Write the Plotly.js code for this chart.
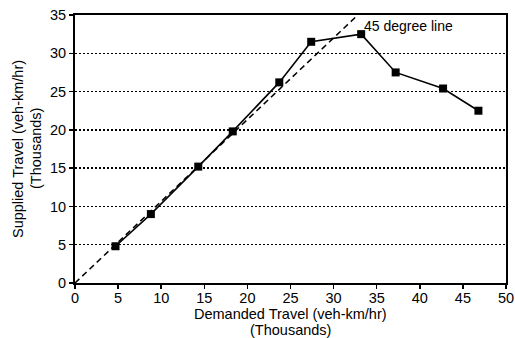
<!DOCTYPE html>
<html><head><meta charset="utf-8">
<script src="https://cdn.plot.ly/plotly-3.0.1.min.js"></script>
<style>html,body{margin:0;padding:0;background:#fff;}</style>
</head><body>
<div id="chart" style="width:515px;height:338px;"></div>
<script>
const demanded = [4.7, 8.8, 14.3, 18.3, 23.7, 27.4, 33.2, 37.2, 42.7, 46.8];
const supplied = [4.8, 9.0, 15.2, 19.8, 26.2, 31.5, 32.5, 27.5, 25.4, 22.5];
const refX = [0, 32.8];
const refY = [0, 35];
const refLabel = '45 degree line';
const xTitle = ['Demanded Travel (veh-km/hr)', '(Thousands)'];
const yTitle = ['Supplied Travel (veh-km/hr)', '(Thousands)'];
const xTicks = [0, 5, 10, 15, 20, 25, 30, 35, 40, 45, 50];
const yTicks = [0, 5, 10, 15, 20, 25, 30, 35];

const font = {family: 'Liberation Sans, Arial, sans-serif', color: '#000', size: 14};

Plotly.newPlot('chart', [
  {x: refX, y: refY, mode: 'lines', line: {color: '#000', width: 1.5, dash: '6px,4px'}, hoverinfo: 'skip'},
  {x: demanded, y: supplied, mode: 'lines+markers', line: {color: '#000', width: 1.6},
   marker: {symbol: 'square', size: 8, color: '#000'}}
], {
  width: 515, height: 338,
  margin: {l: 75, r: 9, t: 15, b: 55},
  showlegend: false,
  paper_bgcolor: '#fff', plot_bgcolor: '#fff',
  font: font,
  xaxis: {range: [0, 50], tickvals: xTicks, ticks: 'outside', ticklen: 4, tickwidth: 1.5, tickcolor: '#000',
    ticklabelstandoff: -3,
    showgrid: false, zeroline: false, showline: true, linecolor: '#000', linewidth: 2, mirror: true,
    tickfont: {size: 14.5}},
  yaxis: {range: [0, 35], tickvals: yTicks, ticks: 'outside', ticklen: 4, tickwidth: 1.5, tickcolor: '#000',
    showgrid: true, gridcolor: '#000', griddash: '2px,2px', gridwidth: 1.5, zeroline: false,
    showline: true, linecolor: '#000', linewidth: 2, mirror: true,
    tickfont: {size: 14.5}},
  annotations: [
    {x: 33.3, y: 33.6, xref: 'x', yref: 'y', text: refLabel, showarrow: false, xanchor: 'left', yanchor: 'middle', font: {size: 14}},
    {x: 0.5, y: 0, xref: 'paper', yref: 'paper', text: xTitle[0], showarrow: false, xanchor: 'center', yanchor: 'top', yshift: -21, font: {size: 14.5}},
    {x: 0.5, y: 0, xref: 'paper', yref: 'paper', text: xTitle[1], showarrow: false, xanchor: 'center', yanchor: 'top', yshift: -37, font: {size: 14.5}},
    {x: 0, y: 0.5, xref: 'paper', yref: 'paper', text: yTitle[0], showarrow: false, textangle: -90, xanchor: 'center', yanchor: 'middle', xshift: -57, font: {size: 14.5}},
    {x: 0, y: 0.5, xref: 'paper', yref: 'paper', text: yTitle[1], showarrow: false, textangle: -90, xanchor: 'center', yanchor: 'middle', xshift: -39, font: {size: 14.5}}
  ]
}, {displayModeBar: false, staticPlot: true});
</script>
</body></html>
